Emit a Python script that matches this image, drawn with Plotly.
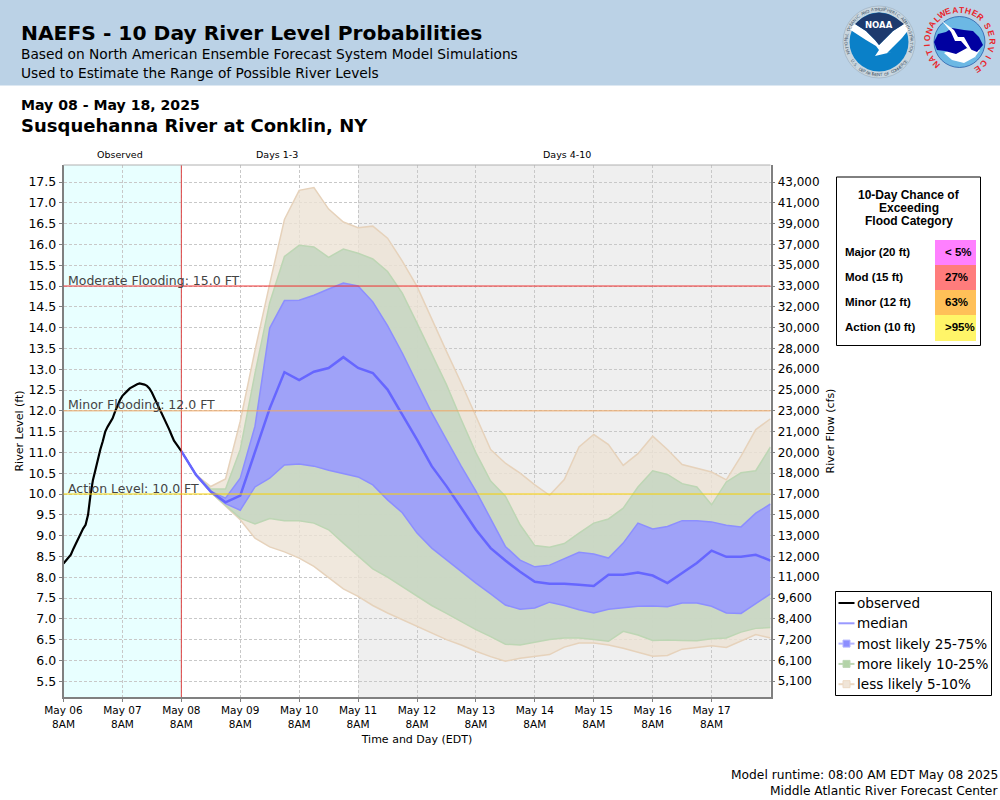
import math

import pandas as pd
import plotly.graph_objects as go

# observed stage, hourly from May 06 8AM to May 08 8AM
observed = [8.33, 8.40, 8.46, 8.54, 8.68, 8.81, 8.94, 9.06, 9.17, 9.26, 9.50, 9.98, 10.34, 10.58, 10.87, 11.07, 11.27,
            11.50, 11.62, 11.72, 11.82, 11.98, 12.13, 12.26, 12.36, 12.43, 12.48, 12.54, 12.58, 12.60, 12.64, 12.66,
            12.65, 12.63, 12.60, 12.54, 12.44, 12.32, 12.20, 12.08, 11.95, 11.82, 11.69, 11.56, 11.42, 11.28, 11.20,
            11.12, 11.03]

# forecast stage, 6-hourly from May 08 8AM to May 18 8AM
median = [11.03, 10.46, 10.06, 9.80, 9.96, 11.00, 12.06, 12.93, 12.74, 12.94, 13.03, 13.29, 13.03, 12.91, 12.51, 11.91,
          11.31, 10.67, 10.19, 9.67, 9.14, 8.70, 8.40, 8.13, 7.89, 7.84, 7.84, 7.82, 7.79, 8.06, 8.06, 8.11, 8.04, 7.86,
          8.10, 8.34, 8.64, 8.49, 8.49, 8.54, 8.40]
q75 = [11.03, 10.46, 10.06, 9.90, 10.38, 11.63, 13.99, 14.65, 14.66, 14.78, 14.93, 15.07, 15.00, 14.62, 14.05, 13.39,
       12.67, 11.95, 11.31, 10.67, 10.07, 9.42, 8.74, 8.41, 8.25, 8.29, 8.44, 8.60, 8.56, 8.46, 8.82, 9.30, 9.16, 9.22,
       9.36, 9.36, 9.33, 9.25, 9.21, 9.54, 9.76]
q25 = [11.03, 10.46, 10.05, 9.77, 9.61, 10.17, 10.38, 10.70, 10.72, 10.67, 10.57, 10.49, 10.41, 10.22, 9.86, 9.55, 9.06,
       8.70, 8.42, 8.12, 7.86, 7.60, 7.33, 7.23, 7.26, 7.40, 7.32, 7.22, 7.14, 7.23, 7.26, 7.30, 7.31, 7.29, 7.38, 7.38,
       7.30, 7.14, 7.13, 7.37, 7.60]
q90 = [11.03, 10.46, 10.12, 10.12, 11.07, 12.90, 14.60, 15.71, 15.98, 15.94, 15.69, 15.89, 15.79, 15.65, 15.35, 14.83,
       14.11, 13.35, 12.63, 11.79, 10.99, 10.31, 9.95, 9.26, 8.76, 8.72, 8.81, 9.06, 9.30, 9.40, 9.66, 10.17, 10.56,
       10.47, 10.25, 10.17, 9.74, 10.29, 10.51, 10.56, 11.13]
q10 = [11.03, 10.46, 10.04, 9.74, 9.42, 9.28, 9.41, 9.36, 9.36, 9.30, 9.14, 8.82, 8.50, 8.20, 8.00, 7.77, 7.54, 7.32,
       7.13, 6.93, 6.74, 6.57, 6.39, 6.37, 6.44, 6.50, 6.54, 6.54, 6.50, 6.46, 6.70, 6.61, 6.48, 6.49, 6.48, 6.47, 6.52,
       6.54, 6.68, 6.77, 6.79]
q95 = [11.03, 10.46, 10.18, 10.36, 11.75, 13.45, 15.05, 16.60, 17.30, 17.37, 16.85, 16.54, 16.40, 16.44, 16.15, 15.60,
       14.99, 14.19, 13.43, 12.67, 11.87, 11.07, 10.74, 10.50, 10.22, 9.97, 10.35, 11.13, 11.43, 11.19, 10.69, 10.97,
       11.39, 11.07, 10.71, 10.62, 10.53, 10.34, 10.91, 11.55, 11.81]
q5 = [11.03, 10.46, 10.04, 9.72, 9.38, 8.94, 8.73, 8.61, 8.46, 8.26, 7.98, 7.72, 7.54, 7.32, 7.14, 6.98, 6.82, 6.66,
      6.50, 6.37, 6.22, 6.09, 5.98, 6.05, 6.10, 6.14, 6.32, 6.42, 6.42, 6.37, 6.29, 6.19, 6.10, 6.12, 6.27, 6.31, 6.35,
      6.31, 6.46, 6.62, 6.54]

stage_ticks = [5.5, 6.0, 6.5, 7.0, 7.5, 8.0, 8.5, 9.0, 9.5, 10.0, 10.5, 11.0, 11.5, 12.0, 12.5, 13.0, 13.5, 14.0, 14.5,
               15.0, 15.5, 16.0, 16.5, 17.0, 17.5]
flow_ticks = ["5,100", "6,100", "7,200", "8,400", "9,600", "11,000", "12,000", "13,000", "15,000", "17,000", "18,000",
              "20,000", "21,000", "23,000", "25,000", "26,000", "28,000", "30,000", "32,000", "33,000", "35,000",
              "37,000", "39,000", "41,000", "43,000"]
day_labels = ["May 06", "May 07", "May 08", "May 09", "May 10", "May 11", "May 12", "May 13", "May 14", "May 15",
              "May 16", "May 17"]

flood_levels = [15.0, 12.0, 10.0]
flood_names = ["Moderate Flooding: 15.0 FT", "Minor Flooding: 12.0 FT", "Action Level: 10.0 FT"]
flood_colors = ["#f03030", "#eea766", "#f8d000"]

table_labels = ["Major (20 ft)", "Mod (15 ft)", "Minor (12 ft)", "Action (10 ft)"]
table_values = ["< 5%", "27%", "63%", ">95%"]
table_colors = ["#ff80ff", "#ff7c7c", "#ffc058", "#fff568"]

legend_names = ["observed", "median", "most likely 25-75%", "more likely 10-25%", "less likely 5-10%"]
legend_lines = ["black", "#9999ff", "#b3b4ff", "#bdd6b4", "#ecd9c4"]
legend_boxes = [None, None, "#8c8eff", "#b3d3a8", "#f0e5d8"]

W, H = 1000, 800
FONT = "DejaVu Sans"
PLOT_L, PLOT_R, PLOT_T, PLOT_B = 63.5, 770.5, 165, 697


def px_x(x):
    return x / W


def px_y(y):
    return 1 - y / H


obs_times = pd.date_range("2025-05-06 08:00", periods=len(observed), freq="h")
fc_times = pd.date_range("2025-05-08 08:00", periods=len(median), freq="6h")
day_ticks = pd.date_range("2025-05-06 08:00", periods=len(day_labels), freq="D")

fig = go.Figure()


def add_band(upper, lower, name, fill, edge):
    fig.add_trace(go.Scatter(x=fc_times, y=upper, mode="lines", name=name, line=dict(color=edge, width=1.5),
                             showlegend=False, hoverinfo="skip"))
    fig.add_trace(go.Scatter(x=fc_times, y=lower, mode="lines", name=name, line=dict(color=edge, width=1.5),
                             fill="tonexty", fillcolor=fill, showlegend=False, hoverinfo="skip"))


add_band(q95, q5, legend_names[4], "rgba(236,226,213,0.8)", "#e6d2bb")
add_band(q90, q10, legend_names[3], "rgba(198,214,194,0.9)", "#bdd6b4")
add_band(q75, q25, legend_names[2], "rgba(155,157,252,0.92)", "#8c8eff")

fig.add_trace(go.Scatter(x=fc_times, y=median, mode="lines", name=legend_names[1], line=dict(color="#6666ff", width=2.5),
                         showlegend=False, hoverinfo="skip"))
fig.add_trace(go.Scatter(x=obs_times, y=observed, mode="lines", name=legend_names[0], line=dict(color="black", width=2.2),
                         showlegend=False, hoverinfo="skip"))

# flow axis needs something attached to it
fig.add_trace(go.Scatter(x=[None], y=[None], yaxis="y2", showlegend=False, hoverinfo="skip"))

shapes = []
annotations = []


def rect(x0, y0, x1, y1, fill, line=None, width=1, layer="below"):
    shapes.append(dict(type="rect", xref="paper", yref="paper", x0=px_x(x0), x1=px_x(x1), y0=px_y(y0), y1=px_y(y1),
                       fillcolor=fill, line=dict(color=line, width=width) if line else dict(width=0), layer=layer))


def hline(x0, x1, y, color, width):
    shapes.append(dict(type="line", xref="paper", yref="paper", x0=px_x(x0), x1=px_x(x1), y0=px_y(y), y1=px_y(y),
                       line=dict(color=color, width=width), layer="above"))


def label(x, y, text, size, color="black", bold=False, anchor="left", angle=0, family=FONT, valign="middle"):
    annotations.append(dict(xref="paper", yref="paper", x=px_x(x), y=px_y(y), text=f"<b>{text}</b>" if bold else text,
                            showarrow=False, xanchor=anchor, yanchor=valign, textangle=angle,
                            font=dict(family=family, size=size, color=color), borderpad=0, borderwidth=0))


def circle(cx, cy, r, fill, line=None, width=1):
    shapes.append(dict(type="circle", xref="paper", yref="paper", x0=px_x(cx - r), x1=px_x(cx + r),
                       y0=px_y(cy + r), y1=px_y(cy - r), fillcolor=fill,
                       line=dict(color=line, width=width) if line else dict(width=0), layer="above"))


def blob(points, fill):
    # closed polygon through pixel points, for the logo pieces
    path = "M " + " L ".join(f"{px_x(x):.4f},{px_y(y):.4f}" for x, y in points) + " Z"
    shapes.append(dict(type="path", xref="paper", yref="paper", path=path, fillcolor=fill, line=dict(width=0),
                       layer="above"))


def ring_text(cx, cy, r, text, start, step, size, color, bold=False, flip=False, family=FONT):
    for i, ch in enumerate(text):
        deg = start + step * i
        rad = math.radians(deg)
        angle = deg + 180 if flip else deg
        label(cx + r * math.sin(rad), cy - r * math.cos(rad), ch, size, color, bold=bold, anchor="center", angle=angle,
              family=family)


# page furniture
rect(0, 0, W, 85.5, "#bbd2e6")
label(21, 33, "NAEFS - 10 Day River Level Probabilities", 20.25, bold=True)
label(21, 54, "Based on North American Ensemble Forecast System Model Simulations", 13.75)
label(21, 73, "Used to Estimate the Range of Possible River Levels", 13.75)
label(21, 105, "May 08 - May 18, 2025", 14.1, bold=True)
label(21, 126, "Susquehanna River at Conklin, NY", 18, bold=True)
label(120, 154, "Observed", 9.5, anchor="center")
label(276.5, 154, "Days 1-3", 9.5, anchor="center")
label(566.5, 154, "Days 4-10", 9.5, anchor="center")
label(998, 775, "Model runtime: 08:00 AM EDT May 08 2025", 12.25, anchor="right")
label(998, 791, "Middle Atlantic River Forecast Center", 12.25, anchor="right")

# shaded periods
shapes.append(dict(type="rect", xref="x", yref="paper", x0=day_ticks[0], x1=day_ticks[2], y0=px_y(PLOT_B),
                   y1=px_y(PLOT_T), fillcolor="#e8ffff", line=dict(width=0), layer="below"))
shapes.append(dict(type="rect", xref="x", yref="paper", x0=day_ticks[5], x1="2025-05-18 08:00", y0=px_y(PLOT_B),
                   y1=px_y(PLOT_T), fillcolor="#efefef", line=dict(width=0), layer="below"))
shapes.append(dict(type="line", xref="x", yref="paper", x0=day_ticks[2], x1=day_ticks[2], y0=px_y(PLOT_B),
                   y1=px_y(PLOT_T), line=dict(color="#e04040", width=1), layer="above"))
# top edge of the plot frame
hline(PLOT_L, PLOT_R, PLOT_T, "#b0b0b0", 1)

for level, name, color in zip(flood_levels, flood_names, flood_colors):
    shapes.append(dict(type="line", xref="paper", yref="y", x0=px_x(PLOT_L), x1=px_x(PLOT_R), y0=level, y1=level,
                       line=dict(color=color, width=1), layer="above"))
    annotations.append(dict(xref="paper", yref="y", x=px_x(66.5), y=level, text=name, showarrow=False, xanchor="left",
                            yanchor="bottom", yshift=-2.5, font=dict(family=FONT, size=12.5, color="#444444"),
                            borderpad=0))

# flood category table
rect(836.5, 177, 980.5, 345.5, "white", "black", 1)
for i, line in enumerate(["10-Day Chance of", "Exceeding", "Flood Category"]):
    label(909, 195 + 13 * i, line, 12, bold=True, anchor="center", family="Liberation Sans")
for i, (name, value, color) in enumerate(zip(table_labels, table_values, table_colors)):
    top = 240 + 25 * i
    rect(935, top, 976, top + 25 + (1 if i == 3 else 0), color, layer="above")
    label(845, top + 11.5, name, 11.5, bold=True, family="Liberation Sans")
    label(945, top + 11.5, value, 11.5, bold=True, family="Liberation Sans")

# legend box, drawn by hand so the swatches stay as short as the original
rect(835.5, 591.5, 991.5, 695.5, "white", "black", 1)
for i, (name, line_color, box) in enumerate(zip(legend_names, legend_lines, legend_boxes)):
    row = 603 + 20.3 * i
    hline(838.5, 854.5, row, line_color, 2)
    if box:
        rect(843, row - 3.5, 850, row + 3.5, box, line_color, 1, layer="above")
    label(857, row, name, 13.6)

# NOAA logo
circle(879, 42, 36, "#c9d6df", "#93a5b5", 0.5)
circle(879, 42, 29.5, "#0a80c8")
blob([(849, 29), (855, 24), (866, 31), (875, 40), (879, 45), (884, 40), (893, 31), (904, 24), (910, 28), (902, 38),
      (893, 47), (887, 53), (892, 52), (875, 56), (879, 50), (876, 46), (866, 40)], "white")
blob([(855, 24), (862, 18), (870, 14), (879, 12.5), (888, 14), (896, 18), (904, 24), (893, 31), (884, 40), (879, 45),
      (875, 40), (866, 31)], "#1d3a6e")
label(879, 25, "NOAA", 8.5, "white", bold=True, anchor="center")
ring_text(879, 42, 32.8, "NATIONAL OCEANIC AND ATMOSPHERIC ADMINISTRATION", -110, 4.7, 4.2, "#46566a")
ring_text(879, 42, 32.8, "U.S. DEPARTMENT OF COMMERCE", 235, -4.2, 4.2, "#46566a", flip=True)

# NWS logo
circle(959.5, 42, 25.5, "#6cb8e4", "#1a4fa0", 0.7)
blob([(944, 53), (952, 60), (964, 63), (975, 57), (980, 50), (970, 47), (955, 47)], "white")
blob([(934, 42), (938, 34), (946, 32), (952, 28), (964, 30), (973, 31), (979, 37), (983, 45), (977, 52), (967, 48),
      (956, 54), (945, 51), (937, 50)], "#0000a0")
blob([(942, 21), (954, 30), (958, 37), (964, 37), (976, 58), (961, 41), (955, 41), (951, 32)], "white")
ring_text(959.5, 42, 32.5, "NATIONAL", -135, 13, 8.5, "#e8262c", bold=True, family="Liberation Sans")
ring_text(959.5, 42, 32.5, "WEATHER", -32, 12, 8.5, "#e8262c", bold=True, family="Liberation Sans")
ring_text(959.5, 42, 32.5, "SERVICE", 60, 14.5, 8.5, "#e8262c", bold=True, family="Liberation Sans")

fig.update_layout(
    width=W,
    height=H,
    margin=dict(l=0, r=0, t=0, b=0),
    paper_bgcolor="white",
    plot_bgcolor="rgba(0,0,0,0)",
    font=dict(family=FONT, size=12, color="black"),
    shapes=shapes,
    annotations=annotations,
    showlegend=False,
    xaxis=dict(
        automargin=False,
        domain=[px_x(PLOT_L), px_x(PLOT_R)],
        range=["2025-05-06 08:00", "2025-05-18 08:00"],
        tickvals=day_ticks,
        ticktext=[f"{d}<br>8AM" for d in day_labels],
        ticks="outside",
        ticklen=3,
        tickcolor="#808080",
        tickangle=0,
        tickfont=dict(size=10.5),
        showline=True,
        linecolor="#808080",
        linewidth=1.5,
        gridcolor="#c8c8c8",
        griddash="3px,2px",
        gridwidth=1,
        title=dict(text="Time and Day (EDT)", font=dict(size=11), standoff=6),
    ),
    yaxis=dict(
        automargin=False,
        domain=[px_y(PLOT_B), px_y(PLOT_T)],
        range=[5.12, 17.91],
        tickvals=stage_ticks,
        ticktext=[f"{v:.1f}" for v in stage_ticks],
        ticks="outside",
        ticklen=3,
        tickcolor="#808080",
        tickfont=dict(size=12.5),
        showline=True,
        linecolor="#808080",
        linewidth=1.5,
        gridcolor="#c8c8c8",
        griddash="3px,2px",
        gridwidth=1,
        zeroline=False,
        title=dict(text="River Level (ft)", font=dict(size=11), standoff=3),
    ),
    yaxis2=dict(
        automargin=False,
        overlaying="y",
        side="right",
        anchor="x",
        range=[5.12, 17.91],
        tickvals=stage_ticks,
        ticktext=flow_ticks,
        ticks="outside",
        ticklen=3,
        tickcolor="#808080",
        tickfont=dict(size=12),
        showline=True,
        linecolor="#808080",
        linewidth=1.5,
        showgrid=False,
        zeroline=False,
        title=dict(text="River Flow (cfs)", font=dict(size=11), standoff=8),
    ),
)

fig.write_html("out.html", config={"displayModeBar": False}, post_script="document.body.style.margin='0';")
